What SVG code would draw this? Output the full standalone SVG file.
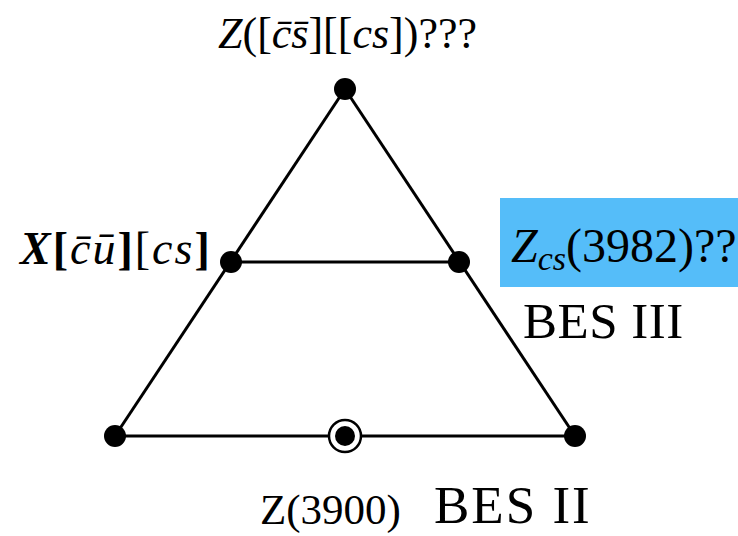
<svg xmlns="http://www.w3.org/2000/svg" width="738" height="536" viewBox="0 0 738 536">
<style>
.t{font-family:"Liberation Serif","Times New Roman",serif;fill:#000}
.i{font-style:italic}
.b{font-weight:bold}
.edge{stroke:#000;stroke-width:3;fill:none}
.dot{fill:#000}
</style>
<rect width="738" height="536" fill="#fff"/>
<g id="connectors">
<line class="edge" x1="345" y1="89" x2="115" y2="436"/>
<line class="edge" x1="345" y1="89" x2="575" y2="436"/>
<line class="edge" x1="231" y1="262" x2="459" y2="262"/>
<line class="edge" x1="115" y1="436" x2="575" y2="436"/>
</g>
<g id="node-top">
<circle class="dot" cx="345" cy="89" r="11"/>
<text class="t" x="218" y="48" font-size="44"><tspan class="i">Z</tspan>([<tspan class="i">c&#x304;s&#x304;</tspan>][[<tspan class="i">cs</tspan>])???</text>
</g>
<g id="node-left">
<circle class="dot" cx="231" cy="262" r="11"/>
<text class="t" x="20" y="264" font-size="46" letter-spacing="2"><tspan class="i b">X</tspan><tspan class="b">[</tspan><tspan class="i">c&#x304;u&#x304;</tspan><tspan class="b">]</tspan>[<tspan class="i">cs</tspan><tspan class="b">]</tspan></text>
</g>
<g id="node-right">
<circle class="dot" cx="459" cy="262" r="11"/>
<rect x="500" y="198" width="238" height="89" fill="#55bdf9"/>
<text class="t" x="511" y="262" font-size="48"><tspan class="i">Z</tspan><tspan class="i" font-size="34" dy="8">cs</tspan><tspan dy="-8">(3982)??</tspan></text>
<text class="t" x="523" y="338" font-size="51" letter-spacing="0.5">BES III</text>
</g>
<g id="node-bottom-left">
<circle class="dot" cx="115" cy="436" r="11"/>
</g>
<g id="node-bottom-right">
<circle class="dot" cx="575" cy="436" r="11"/>
</g>
<g id="node-bottom-mid">
<circle cx="345" cy="436" r="16" fill="#fff" stroke="#000" stroke-width="2.5"/>
<circle class="dot" cx="345" cy="436" r="10"/>
<text class="t" x="260" y="524" font-size="43">Z(3900)</text>
<text class="t" x="434" y="523" font-size="53" letter-spacing="2">BES II</text>
</g>
</svg>
